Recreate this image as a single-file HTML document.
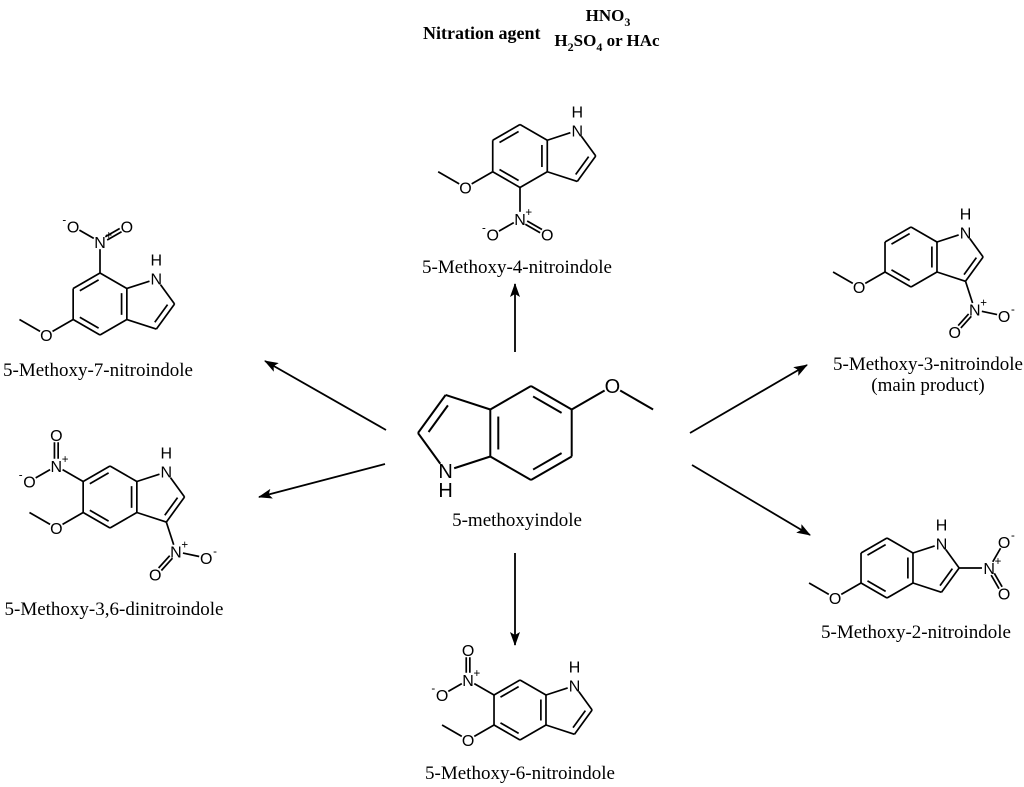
<!DOCTYPE html>
<html><head><meta charset="utf-8">
<style>
html,body{margin:0;padding:0;background:#fff;}
svg{display:block;}
.lbl{font-family:"Liberation Serif",serif;font-size:19px;fill:#000;}
.ttl{font-family:"Liberation Serif",serif;font-weight:bold;fill:#000;}
</style></head>
<body>
<svg id="s" width="1024" height="787" viewBox="0 0 1024 787" xmlns="http://www.w3.org/2000/svg">
<defs>
<marker id="ah" markerWidth="14" markerHeight="10" refX="13" refY="5" orient="auto" markerUnits="userSpaceOnUse">
<path d="M0,0 L14,5 L0,10 L3,5 Z" fill="#000"/>
</marker>
</defs>
<text class="ttl" x="423" y="39" font-size="18">Nitration agent</text>
<text class="ttl" x="608" y="21" font-size="17" text-anchor="middle">HNO<tspan font-size="12" dy="5">3</tspan></text>
<text class="ttl" x="607" y="46" font-size="17" text-anchor="middle">H<tspan font-size="12" dy="5">2</tspan><tspan dy="-5">SO</tspan><tspan font-size="12" dy="5">4</tspan><tspan dy="-5"> or HAc</tspan></text>

<g stroke="#000" stroke-width="1.8" marker-end="url(#ah)">
<line x1="515" y1="352" x2="515" y2="284"/>
<line x1="386" y1="430" x2="265" y2="361"/>
<line x1="385" y1="464" x2="259" y2="497"/>
<line x1="690" y1="433" x2="807" y2="365"/>
<line x1="692" y1="465" x2="810" y2="535"/>
<line x1="515" y1="553" x2="515" y2="645"/>
</g>

<text class="lbl" x="517" y="273" text-anchor="middle">5-Methoxy-4-nitroindole</text>
<text class="lbl" x="98" y="376" text-anchor="middle">5-Methoxy-7-nitroindole</text>
<text class="lbl" x="114" y="615" text-anchor="middle">5-Methoxy-3,6-dinitroindole</text>
<text class="lbl" x="928" y="370" text-anchor="middle">5-Methoxy-3-nitroindole</text>
<text class="lbl" x="928" y="391" text-anchor="middle">(main product)</text>
<text class="lbl" x="916" y="638" text-anchor="middle">5-Methoxy-2-nitroindole</text>
<text class="lbl" x="517" y="526" text-anchor="middle">5-methoxyindole</text>
<text class="lbl" x="520" y="779" text-anchor="middle">5-Methoxy-6-nitroindole</text>
</svg>
<script>
(function(){
var S=document.getElementById('s'),NS='http://www.w3.org/2000/svg';
function el(n,a,t){var e=document.createElementNS(NS,n);for(var k in a)e.setAttribute(k,a[k]);if(t!=null)e.textContent=t;S.appendChild(e);return e;}
var P={C7:[0,-1],C7a:[.866,-.5],C3a:[.866,.5],C4:[0,1],C5:[-.866,.5],C6:[-.866,-.5],N1:[1.817,-.809],C2:[2.405,0],C3:[1.817,.809]};
var PC=[1.554,0];
function rot(u,d){var a=d*Math.PI/180,c=Math.cos(a),s=Math.sin(a);return [u[0]*c-u[1]*s,u[0]*s+u[1]*c];}
function add(a,b){return [a[0]+b[0],a[1]+b[1]];}
function norm(v){var l=Math.hypot(v[0],v[1]);return [v[0]/l,v[1]/l];}
function mol(cx,cy,L,flip,subs){
  var sg=flip?-1:1,sw=L>40?2:1.7,fs=L>40?20:16;
  function T(p){return [cx+sg*p[0]*L,cy+sg*p[1]*L];}
  var cut=fs*0.45;
  function line(a,b,ca,cb,w){var A=T(a),B=T(b),d=norm([B[0]-A[0],B[1]-A[1]]);
    if(ca){A=[A[0]+d[0]*cut,A[1]+d[1]*cut];} if(cb){B=[B[0]-d[0]*cut,B[1]-d[1]*cut];}
    el('line',{x1:A[0],y1:A[1],x2:B[0],y2:B[1],stroke:'#000','stroke-width':w||sw});}
  function txt(p,s){var q=T(p);el('text',{x:q[0],y:q[1]+fs*0.36,'text-anchor':'middle','font-family':'Liberation Sans, sans-serif','font-size':fs},s);}
  function sup(p,dx,s){var q=T(p);el('text',{x:q[0]+dx,y:q[1]-fs*0.2,'text-anchor':'middle','font-family':'Liberation Sans, sans-serif','font-size':fs*0.72},s);}
  var B=[['C7','C7a'],['C7a','C3a'],['C3a','C4'],['C4','C5'],['C5','C6'],['C6','C7'],['C7a','N1',0,1],['N1','C2',1,0],['C2','C3'],['C3','C3a']];
  B.forEach(function(b){line(P[b[0]],P[b[1]],b[2],b[3]);});
  [['C6','C7',[0,0]],['C7a','C3a',[0,0]],['C4','C5',[0,0]],['C2','C3',PC]].forEach(function(b){
    var a=P[b[0]],c=P[b[1]],m=[(a[0]+c[0])/2,(a[1]+c[1])/2],d=norm([b[2][0]-m[0],b[2][1]-m[1]]),o=0.17,sh=0.15;
    var e=norm([c[0]-a[0],c[1]-a[1]]);
    line([a[0]+d[0]*o+e[0]*sh,a[1]+d[1]*o+e[1]*sh],[c[0]+d[0]*o-e[0]*sh,c[1]+d[1]*o-e[1]*sh]);
  });
  txt(P.N1,'N'); var nq=P.N1; var hp=[nq[0],nq[1]-19/L]; txt(hp,'H');
  subs.forEach(function(s){
    var A=P[s.at],c=(s.at=='C2'||s.at=='C3')?PC:[0,0],u=norm([A[0]-c[0],A[1]-c[1]]);
    if(s.t=='OMe'){var O=add(A,u),M=add(O,rot(u,60));line(A,O,0,1);line(O,M,1,0);txt(O,'O');}
    else{var N=add(A,u),Oa=add(N,rot(u,60)),Ob=add(N,rot(u,-60));
      line(A,N,0,1);
      var Od=s.d>0?Oa:Ob,Om=s.d>0?Ob:Oa;
      line(N,Om,1,1);
      var v=norm([Od[0]-N[0],Od[1]-N[1]]),pp=[-v[1]*0.06,v[0]*0.06];
      line(add(N,pp),add(Od,pp),1,1);line([N[0]-pp[0],N[1]-pp[1]],[Od[0]-pp[0],Od[1]-pp[1]],1,1);
      txt(N,'N');txt(Od,'O');txt(Om,'O');
      sup(N,fs*0.55,'+');
      var sx=T(Om)[0]<T(N)[0]-1?-fs*0.55:fs*0.55; sup(Om,sx,'-');
    }
  });
}
mol(520,156,31.5,false,[{at:'C5',t:'OMe'},{at:'C4',t:'NO2',d:-1}]);
mol(531,433,47,true,[{at:'C5',t:'OMe'}]);
mol(100,304,31,false,[{at:'C5',t:'OMe'},{at:'C7',t:'NO2',d:1}]);
mol(110,497,31,false,[{at:'C5',t:'OMe'},{at:'C6',t:'NO2',d:1},{at:'C3',t:'NO2',d:1}]);
mol(911,257,30,false,[{at:'C5',t:'OMe'},{at:'C3',t:'NO2',d:1}]);
mol(887,568,30,false,[{at:'C5',t:'OMe'},{at:'C2',t:'NO2',d:1}]);
mol(520,710,30,false,[{at:'C5',t:'OMe'},{at:'C6',t:'NO2',d:1}]);
})();
</script>
</body></html>
